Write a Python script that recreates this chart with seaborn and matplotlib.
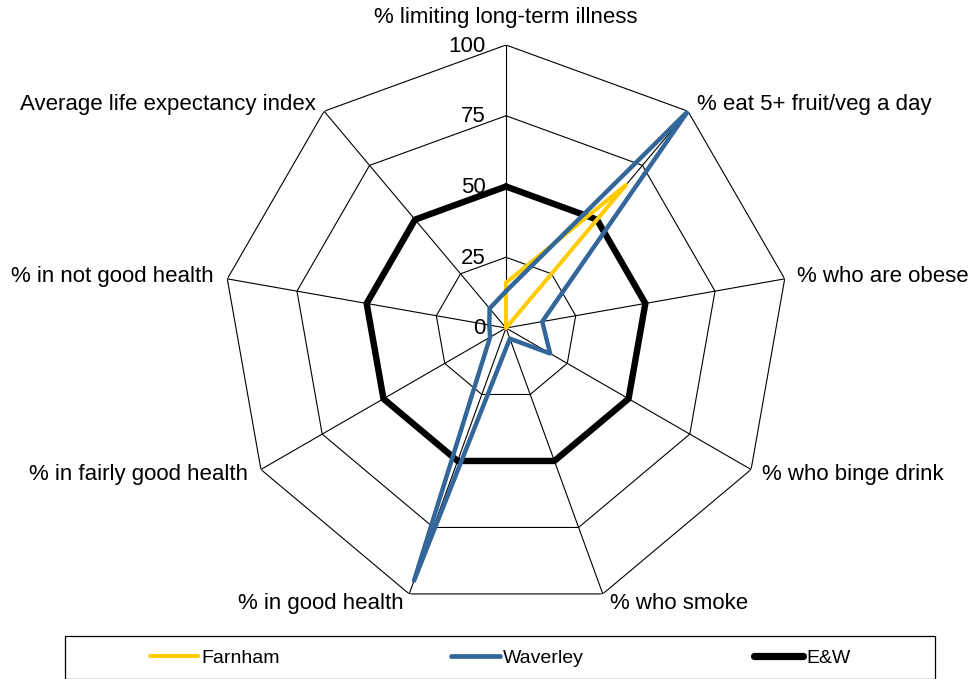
import numpy as np
import pandas as pd
import seaborn as sns
import matplotlib
matplotlib.use("Agg")
from matplotlib import pyplot as plt
from matplotlib.lines import Line2D
from matplotlib.patches import Rectangle

# categories, clockwise from the top
categories = ["% limiting long-term illness", "% eat 5+ fruit/veg a day", "% who are obese",
              "% who binge drink", "% who smoke", "% in good health",
              "% in fairly good health", "% in not good health", "Average life expectancy index"]
farnham = [16, 66, 0, 0, 0, 0, 0, 0, 0]
waverley = [13, 100, 13, 18, 4, 95, 6.5, 6, 9]
eandw = [50, 50, 50, 50, 50, 50, 50, 50, 50]
series_names = ["Farnham", "Waverley", "E&W"]
ticks = [0, 25, 50, 75, 100]

sns.set_style("white")
plt.rcParams["font.family"] = ["Liberation Sans", "DejaVu Sans"]
plt.rcParams["text.color"] = "black"

n = len(categories)
theta = np.deg2rad(np.arange(n) * 360.0 / n)
theta_closed = np.append(theta, theta[0])

fig = plt.figure(figsize=(9.79, 6.79), dpi=100)
# centre of the web at (506, 328) px, radius 283 px
ax = fig.add_axes([(506 - 283) / 979, (351 - 283) / 679, 566 / 979, 566 / 679], projection="polar")
ax.set_theta_zero_location("N")
ax.set_theta_direction(-1)
ax.set_ylim(0, 100)
ax.grid(False)
ax.spines["polar"].set_visible(False)
ax.set_xticks([])
ax.set_yticks([])
ax.patch.set_alpha(0)

# polygon web + spokes
for t in ticks[1:]:
    ax.plot(theta_closed, [t] * (n + 1), color="black", lw=0.8, zorder=1)
for th in theta:
    ax.plot([th, th], [0, 100], color="black", lw=0.8, zorder=1)

# radial tick labels
for t in ticks:
    ax.annotate(str(t), xy=(0, t), xytext=(-20, -1), textcoords="offset pixels",
                ha="right", va="center", fontsize=16)

# category labels: (dx, dy, ha) in pixels from the outer vertex
label_pos = [(0, 27, "center"), (9, 7, "left"), (12, 2, "left"), (11, -5, "left"),
             (7, -10, "left"), (-6, -10, "right"), (-13, -5, "right"),
             (-14, 2, "right"), (-8, 7, "right")]
for th, lab, (dx, dy, ha) in zip(theta, categories, label_pos):
    ax.annotate(lab, xy=(th, 100), xytext=(dx, dy), textcoords="offset pixels",
                ha=ha, va="center", fontsize=16)

colors = ["#FFCC00", "#336699", "#000000"]
widths = [2.9, 3.2, 4.6]
joins = ["round", "round", "miter"]
for name, vals, c, w, j in zip(series_names, [farnham, waverley, eandw], colors, widths, joins):
    df = pd.DataFrame({"theta": theta_closed, "value": np.append(vals, vals[0])})
    sns.lineplot(data=df, x="theta", y="value", sort=False, estimator=None, color=c,
                 lw=w, ax=ax, legend=False, zorder=3 if name != "E&W" else 2,
                 solid_joinstyle=j)
ax.set_xlabel("")
ax.set_ylabel("")
ax.set_ylim(0, 100)

# legend box
fig.add_artist(Rectangle((65 / 979, 0.0), 870 / 979, (679 - 636) / 679, transform=fig.transFigure,
                         facecolor="white", edgecolor="black", lw=0.9))
handles = [Line2D([], [], color=c, lw=lw, solid_capstyle="round")
           for c, lw in zip(colors, [3.0, 3.4, 5.2])]
fig.legend(handles, series_names, loc="center", bbox_to_anchor=(500 / 979, 1 - 658 / 679),
           ncol=3, frameon=False, fontsize=14, handlelength=2.5, handletextpad=0.15,
           columnspacing=8.8)

fig.savefig("out.png", dpi=100)
